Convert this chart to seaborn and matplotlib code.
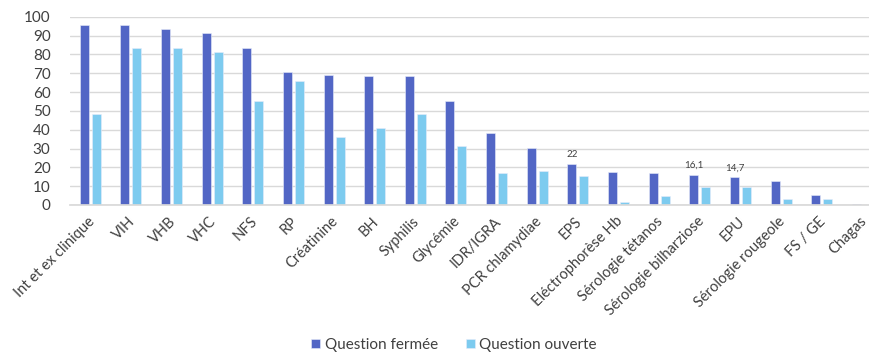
import matplotlib
matplotlib.use("Agg")
import matplotlib.pyplot as plt
import matplotlib.transforms as mtransforms
import seaborn as sns
import pandas as pd

examens = ["Int et ex clinique", "VIH", "VHB", "VHC", "NFS", "RP", "Créatinine", "BH",
           "Syphilis", "Glycémie", "IDR/IGRA", "PCR chlamydiae", "EPS", "Eléctrophorèse Hb",
           "Sérologie tétanos", "Sérologie bilharziose", "EPU", "Sérologie rougeole",
           "FS / GE", "Chagas"]
question_fermee = [95.4, 95.4, 93.3, 91.5, 83.5, 70.8, 69.0, 68.5, 68.5, 55.2, 38.1, 30.1,
                   22.0, 17.7, 17.2, 16.1, 14.7, 12.7, 5.1, 0.5]
question_ouverte = [48.2, 83.4, 83.5, 81.4, 55.2, 66.0, 35.9, 40.7, 48.2, 31.3, 17.2, 18.1,
                    15.6, 1.4, 4.8, 9.4, 9.4, 3.2, 3.0, 0.0]
series = ["Question fermée", "Question ouverte"]
etiquettes = {"EPS": "22", "Sérologie bilharziose": "16,1", "EPU": "14,7"}

df = pd.DataFrame({
    "examen": examens * 2,
    "serie": [series[0]] * len(examens) + [series[1]] * len(examens),
    "pct": question_fermee + question_ouverte,
})

sns.set_theme(style="white")
plt.rcParams["font.family"] = ["Lato", "DejaVu Sans"]
text_color = "#404040"

W, H = 870, 356
step = 40.63  # pixel width of one category slot
fig = plt.figure(figsize=(W / 100, H / 100), dpi=100)
ax = fig.add_axes([70 / W, 1 - 205 / H, 800 / W, (205 - 16.7) / H])

palette = {series[0]: "#5266C5", series[1]: "#7DCBEF"}
sns.barplot(data=df, x="examen", y="pct", hue="serie", palette=palette, saturation=1,
            width=0.59, gap=0.25, edgecolor="#E8ECFA", linewidth=0.4, ax=ax, legend=True)

ax.set_ylim(0, 100)
ax.set_xlim(-0.5, 800 / step - 0.5)
ax.set_yticks(range(0, 101, 10))
ax.yaxis.grid(True, color="#D9D9D9", linewidth=1)
ax.set_axisbelow(True)
for s in ["left", "right", "top"]:
    ax.spines[s].set_visible(False)
ax.spines["bottom"].set_color("#D9D9D9")
ax.set_xlabel("")
ax.set_ylabel("")
ax.tick_params(axis="y", labelsize=11, colors=text_color, length=0, pad=14)
ax.tick_params(axis="x", labelsize=10.5, colors=text_color, length=0, pad=3)
shift = mtransforms.ScaledTranslation(-3 / 100, -5 / 100, fig.dpi_scale_trans)
for lbl in ax.get_xticklabels():
    lbl.set_rotation(45)
    lbl.set_ha("right")
    lbl.set_rotation_mode("anchor")
    lbl.set_transform(lbl.get_transform() + shift)

# value labels above selected closed-question bars
dark = ax.containers[0]
for i, name in enumerate(examens):
    if name in etiquettes:
        bar = dark[i]
        ax.text(bar.get_x() + bar.get_width() / 2, question_fermee[i] + 2.5, etiquettes[name],
                ha="center", va="bottom", fontsize=7, color=text_color)

leg = ax.legend(loc="center", bbox_to_anchor=((454 - 70) / 800, -(345 - 205) / (205 - 16.7)),
                ncol=2, frameon=False, fontsize=11, handlelength=0.6, handleheight=0.6,
                handletextpad=0.3, columnspacing=1.8, borderaxespad=0, borderpad=0)
for t in leg.get_texts():
    t.set_color(text_color)

fig.savefig("out.png", dpi=100)
